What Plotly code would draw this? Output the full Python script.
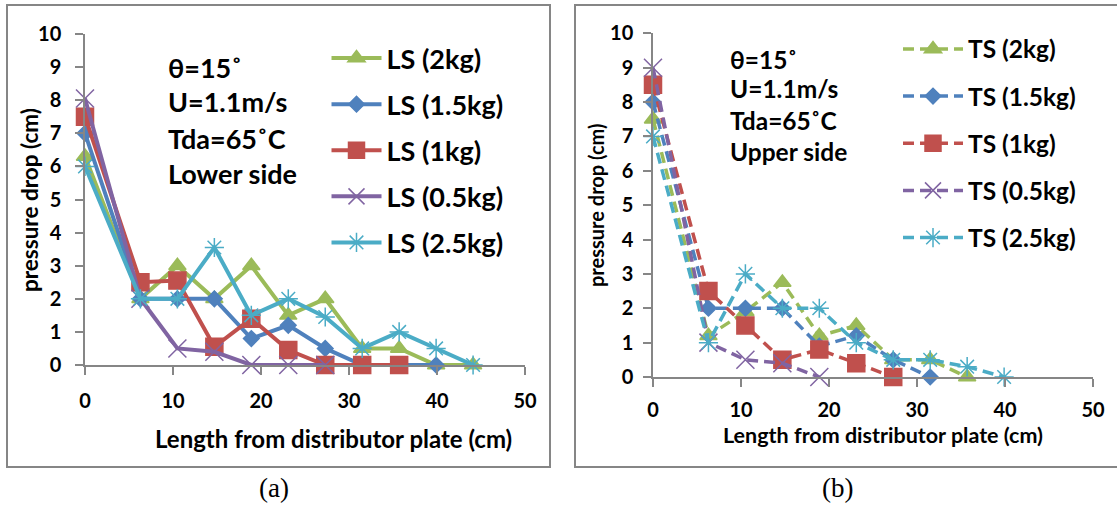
import plotly.graph_objects as go

W, H = 1117, 506

# ---------------- data ----------------
x_pos = [0, 6.3, 10.5, 14.7, 18.9, 23.1, 27.3, 31.5, 35.7, 39.9, 44.1]

ls_names = ["LS (2kg)", "LS (1.5kg)", "LS (1kg)", "LS (0.5kg)", "LS (2.5kg)"]
ls_2kg = [6.3, 2.0, 3.0, 2.0, 3.0, 1.5, 2.0, 0.5, 0.5, 0.0, 0.0]
ls_1_5kg = [7.0, 2.0, 2.0, 2.0, 0.8, 1.2, 0.5, 0.0, 0.0, 0.0]
ls_1kg = [7.5, 2.5, 2.55, 0.55, 1.4, 0.45, 0.0, 0.0, 0.0]
ls_0_5kg = [8.05, 2.0, 0.5, 0.4, 0.0, 0.0, 0.0]
ls_2_5kg = [6.0, 2.0, 2.0, 3.55, 1.5, 2.0, 1.45, 0.5, 1.0, 0.5, 0.0]

ts_names = ["TS (2kg)", "TS (1.5kg)", "TS (1kg)", "TS (0.5kg)", "TS (2.5kg)"]
ts_2kg = [7.5, 1.2, 1.9, 2.75, 1.2, 1.5, 0.5, 0.5, 0.0]
ts_1_5kg = [8.0, 2.0, 2.0, 2.0, 0.9, 1.2, 0.5, 0.0]
ts_1kg = [8.5, 2.5, 1.5, 0.5, 0.8, 0.4, 0.0]
ts_0_5kg = [9.0, 1.0, 0.5, 0.4, 0.0]
ts_2_5kg = [7.0, 1.0, 3.0, 2.0, 2.0, 1.0, 0.5, 0.5, 0.3, 0.0]

x_ticks = [0, 10, 20, 30, 40, 50]
y_ticks = list(range(0, 11))

left_notes = ["θ=15˚", "U=1.1m/s", "Tda=65˚C", "Lower side"]
right_notes = ["θ=15˚", "U=1.1m/s", "Tda=65˚C", "Upper side"]
x_title = "Length from distributor plate (cm)"
y_title = "pressure drop (cm)"

# ---------------- style ----------------
GREEN, BLUE, RED, PURPLE, CYAN = "#9BBB59", "#4F81BD", "#C0504D", "#8064A2", "#4BACC6"
colors = [GREEN, BLUE, RED, PURPLE, CYAN]
markers = [
    dict(symbol="triangle-up", size=15),
    dict(symbol="diamond", size=12),
    dict(symbol="square", size=17),
    dict(symbol="x-thin-open", size=18),
    dict(symbol="asterisk-open", size=16),
]
AX = "#868686"
FONT = "Lato"


def px(xp):
    return xp / W


def py(yp):
    return 1 - yp / H


fig = go.Figure()

left_series = [ls_2kg, ls_1_5kg, ls_1kg, ls_0_5kg, ls_2_5kg]
right_series = [ts_2kg, ts_1_5kg, ts_1kg, ts_0_5kg, ts_2_5kg]

for i, (name, vals) in enumerate(zip(ls_names, left_series)):
    m = dict(markers[i])
    m.update(color=colors[i], line=dict(width=1.5, color=colors[i]))
    fig.add_trace(go.Scatter(
        x=x_pos[:len(vals)], y=vals, name=name, mode="lines+markers",
        line=dict(color=colors[i], width=4), marker=m, cliponaxis=False,
        xaxis="x", yaxis="y", legend="legend", legendgroup="L%d" % i,
    ))

for i, (name, vals) in enumerate(zip(ts_names, right_series)):
    m = dict(markers[i])
    m.update(color=colors[i], line=dict(width=1.5, color=colors[i]))
    fig.add_trace(go.Scatter(
        x=x_pos[:len(vals)], y=vals, name=name, mode="lines+markers",
        line=dict(color=colors[i], width=3.5, dash="11px,6px"), marker=m, cliponaxis=False,
        xaxis="x2", yaxis="y2", legend="legend2", legendgroup="R%d" % i,
    ))

tickfont = dict(family=FONT, size=20, color="black", weight="bold")
common_x = dict(range=[0, 50], tickvals=x_ticks, showline=True, linecolor=AX, linewidth=1.5,
                ticks="outside", ticklen=8, tickcolor=AX, tickwidth=1.5, showgrid=False,
                zeroline=False, tickfont=tickfont, automargin=False)
common_y = dict(range=[0, 10], tickvals=y_ticks, showline=True, linecolor=AX, linewidth=1.5,
                ticks="outside", ticklen=8, tickcolor=AX, tickwidth=1.5, showgrid=False,
                zeroline=False, tickfont=tickfont, automargin=False)

fig.update_layout(
    width=W, height=H, margin=dict(l=0, r=0, t=0, b=0, pad=0, autoexpand=False),
    paper_bgcolor="white", plot_bgcolor="rgba(0,0,0,0)",
    xaxis=dict(domain=[px(85), px(525)], anchor="y", ticklabelstandoff=9, **common_x),
    yaxis=dict(domain=[py(365), py(34)], anchor="x", ticklabelstandoff=10, **common_y),
    xaxis2=dict(domain=[px(653), px(1093)], anchor="y2", ticklabelstandoff=6, **common_x),
    yaxis2=dict(domain=[py(377), py(33.3)], anchor="x2", ticklabelstandoff=6, **common_y),
    legend=dict(x=px(326.5), y=py(34), xanchor="left", yanchor="top", bgcolor="rgba(0,0,0,0)",
                font=dict(family=FONT, size=27, color="black", weight="bold"),
                itemwidth=50, tracegroupgap=8, borderwidth=0),
    legend2=dict(x=px(898), y=py(26.5), xanchor="left", yanchor="top", bgcolor="rgba(0,0,0,0)",
                 font=dict(family=FONT, size=24.5, color="black", weight="bold"),
                 itemwidth=60, tracegroupgap=12.3, borderwidth=0),
    showlegend=True,
)

# panel borders
fig.add_shape(type="rect", xref="paper", yref="paper", x0=px(7), x1=px(550), y0=py(467), y1=py(5),
              line=dict(color=AX, width=2), layer="below")
fig.add_shape(type="rect", xref="paper", yref="paper", x0=px(575), x1=px(1130), y0=py(467), y1=py(5),
              line=dict(color=AX, width=2), layer="below")

ann = []
# notes
for txt, yy in zip(left_notes, [67, 102, 138, 173]):
    ann.append(dict(text=txt, x=px(166), y=py(yy), xanchor="left", yanchor="middle",
                    font=dict(family=FONT, size=27, color="black", weight="bold")))
for txt, yy in zip(right_notes, [59, 89, 121, 151]):
    ann.append(dict(text=txt, x=px(728), y=py(yy), xanchor="left", yanchor="middle",
                    font=dict(family=FONT, size=24.5, color="black", weight="bold")))
# axis titles
ann.append(dict(text=x_title, x=px(333), y=py(438), xanchor="center", yanchor="middle",
                font=dict(family=FONT, size=24, color="black", weight="bold")))
ann.append(dict(text=x_title, x=px(883), y=py(435), xanchor="center", yanchor="middle",
                font=dict(family=FONT, size=21.5, color="black", weight="bold")))
ann.append(dict(text=y_title, x=px(30), y=py(200), xanchor="center", yanchor="middle", textangle=-90,
                font=dict(family=FONT, size=22.5, color="black", weight="bold")))
ann.append(dict(text=y_title, x=px(596), y=py(206), xanchor="center", yanchor="middle", textangle=-90,
                font=dict(family=FONT, size=20, color="black", weight="bold")))
# panel labels
ann.append(dict(text="(a)", x=px(274), y=py(488), xanchor="center", yanchor="middle",
                font=dict(family="Liberation Serif", size=27, color="black")))
ann.append(dict(text="(b)", x=px(837), y=py(488), xanchor="center", yanchor="middle",
                font=dict(family="Liberation Serif", size=27, color="black")))
for a in ann:
    a.update(xref="paper", yref="paper", showarrow=False)
fig.update_layout(annotations=ann)

fig.write_html(
    "out.html",
    config={"displayModeBar": False},
    post_script="document.body.style.margin='0';document.body.style.overflow='hidden';",
)
